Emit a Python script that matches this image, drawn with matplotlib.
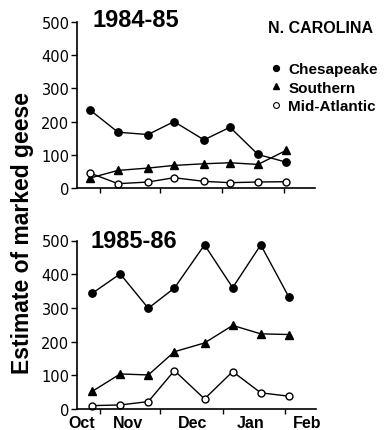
import matplotlib
matplotlib.use("Agg")
import matplotlib.pyplot as plt
from matplotlib.lines import Line2D

# days counted from Oct 1
days_8485 = [26, 40, 55, 68, 83, 96, 110, 124]
chesapeake_8485 = [235, 168, 161, 200, 145, 183, 101, 78]
southern_8485 = [30, 53, 60, 68, 73, 76, 71, 113]
midatlantic_8485 = [45, 13, 18, 31, 20, 16, 18, 19]

days_8586 = [27, 41, 55, 68, 83, 97, 111, 125]
chesapeake_8586 = [343, 401, 299, 359, 487, 360, 487, 332]
southern_8586 = [52, 104, 101, 170, 196, 248, 223, 221]
midatlantic_8586 = [10, 12, 22, 114, 30, 111, 48, 38]

month_starts = [31, 61, 92, 123]
month_label_pos = [22, 45, 77, 106, 134]
month_labels = ["Oct", "Nov", "Dec", "Jan", "Feb"]
y_ticks = [0, 100, 200, 300, 400, 500]
series_names = ["Chesapeake", "Southern", "Mid-Atlantic"]

plt.rcParams['font.family'] = ['Liberation Sans', 'DejaVu Sans']

W, H = 386, 431
fig = plt.figure(figsize=(W / 100, H / 100), dpi=100)


def draw_panel(ax, days, ches, south, mid, show_months):
    ax.plot(days, ches, color='black', lw=1.0, marker='o', ms=5.3,
            mfc='black', mec='black')
    ax.plot(days, south, color='black', lw=1.0, marker='^', ms=5.8,
            mfc='black', mec='black')
    ax.plot(days, mid, color='black', lw=1.0, marker='o', ms=5.0,
            mfc='white', mec='black', mew=1.0)
    ax.set_xlim(19.5, 138.5)
    ax.set_ylim(0, 500)
    ax.spines['top'].set_visible(False)
    ax.spines['right'].set_visible(False)
    ax.spines['left'].set_linewidth(1.2)
    ax.spines['bottom'].set_linewidth(1.2)
    ax.set_yticks(y_ticks)
    ax.set_yticklabels([str(v) for v in y_ticks], fontfamily='DejaVu Sans',
                       fontsize=10.5)
    ax.tick_params(axis='y', direction='out', length=4, width=1.0, pad=1.5)
    ax.set_xticks(month_starts)
    ax.set_xticklabels([])
    ax.tick_params(axis='x', which='major', direction='out', length=3.6,
                   width=1.0)
    if show_months:
        ax.set_xticks(month_label_pos, minor=True)
        ax.set_xticklabels(month_labels, minor=True, fontweight='bold',
                           fontsize=11.5)
        ax.tick_params(axis='x', which='minor', length=0, pad=4)
    for line in ax.lines:
        line.set_clip_on(False)


ax1 = fig.add_axes([77 / W, 1 - 189 / H, 238 / W, 166 / H])
draw_panel(ax1, days_8485, chesapeake_8485, southern_8485, midatlantic_8485, False)

ax2 = fig.add_axes([77 / W, 1 - 410 / H, 239 / W, 168.5 / H])
draw_panel(ax2, days_8586, chesapeake_8586, southern_8586, midatlantic_8586, True)

fig.text(93 / W, 1 - 27 / H, "1984-85", fontsize=17, fontweight='bold',
         va='baseline', ha='left')
fig.text(90 / W, 1 - 248 / H, "1985-86", fontsize=17, fontweight='bold',
         va='baseline', ha='left')
fig.text(268 / W, 1 - 33 / H, "N. CAROLINA", fontsize=11.5, fontweight='bold',
         va='baseline', ha='left')

fig.text(23 / W, 1 - 233 / H, "Estimate of marked geese", fontsize=16.5,
         fontweight='bold', rotation=90, ha='center', va='center')

handles = [
    Line2D([], [], ls='none', marker='o', ms=4.2, mfc='black', mec='black'),
    Line2D([], [], ls='none', marker='^', ms=4.6, mfc='black', mec='black'),
    Line2D([], [], ls='none', marker='o', ms=4.2, mfc='white', mec='black', mew=0.8),
]
fig.legend(handles, series_names, loc='upper left',
           bbox_to_anchor=(270 / W, 1 - 63 / H), frameon=False,
           handlelength=0.8, handletextpad=0.4, labelspacing=0.3,
           borderpad=0, borderaxespad=0,
           prop={'weight': 'bold', 'size': 11})

fig.savefig("out.png", dpi=100)
